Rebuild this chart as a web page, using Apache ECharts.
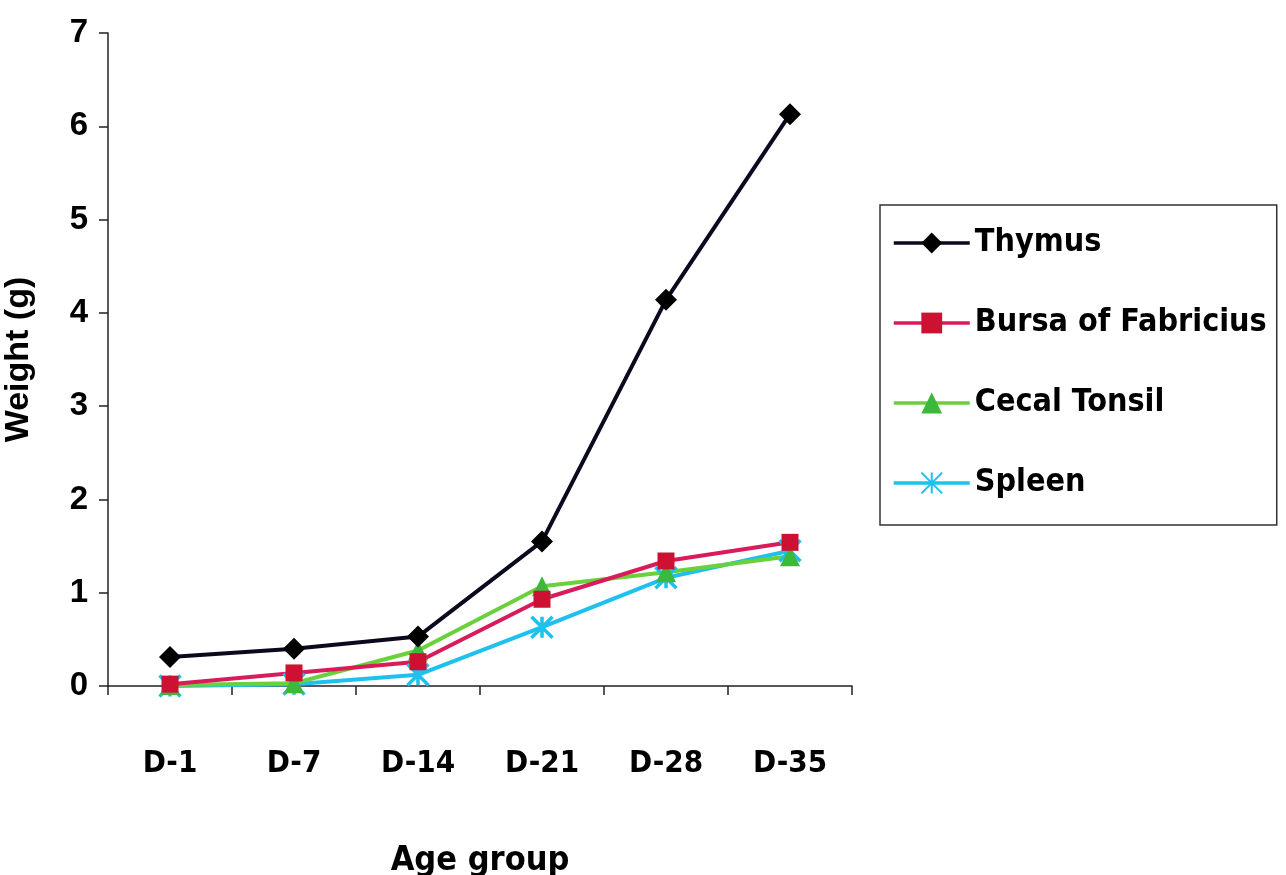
<!DOCTYPE html>
<html><head><meta charset="utf-8">
<script src="https://cdn.jsdelivr.net/npm/echarts@6/dist/echarts.min.js"></script>
<style>html,body{margin:0;padding:0;background:#fff}#c{width:1286px;height:875px}</style>
</head><body><div id="c"></div>
<script>
const categories = ['D-1','D-7','D-14','D-21','D-28','D-35'];
const thymus = [0.31, 0.40, 0.53, 1.55, 4.14, 6.13];
const bursa = [0.02, 0.14, 0.26, 0.93, 1.34, 1.54];
const cecal = [0.01, 0.03, 0.38, 1.07, 1.22, 1.39];
const spleen = [0.00, 0.02, 0.12, 0.63, 1.16, 1.45];
const yTicks = [0,1,2,3,4,5,6,7];

const font = '"DejaVu Sans Condensed", sans-serif';
const font2 = '"Liberation Sans", sans-serif';
const starPath = 'path://M0,0L10,10M10,0L0,10M5,0L5,10';

function s(name, data, color, symbol, size, extra) {
  return Object.assign({
    name, type: 'line', data, symbol, symbolSize: size,
    lineStyle: { color, width: 4 },
    itemStyle: { color },
    emphasis: { disabled: true },
    z: 2
  }, extra || {});
}

const chart = echarts.init(document.getElementById('c'));
chart.setOption({
  backgroundColor: '#fff',
  animation: false,
  grid: { left: 108, right: 434, top: 33, bottom: 189, outerBoundsMode: 'none', containLabel: false },
  legend: {
    left: 880, top: 205, orient: 'vertical',
    padding: [22, 10, 26, 12],
    itemGap: 48, itemWidth: 76, itemHeight: 26,
    borderColor: '#333', borderWidth: 1.5,
    lineStyle: { width: 3.5 },
    textStyle: { fontFamily: font, fontWeight: 'bold', fontSize: 32, color: '#000' },
    data: ['Thymus','Bursa of Fabricius','Cecal Tonsil','Spleen']
  },
  xAxis: {
    type: 'category', data: categories, boundaryGap: true,
    name: 'Age group', nameLocation: 'middle', nameGap: 158,
    nameTextStyle: { fontFamily: font, fontWeight: 'bold', fontSize: 34, color: '#000' },
    axisLine: { lineStyle: { color: '#222', width: 1.5 } },
    axisTick: { show: true, length: 9, alignWithLabel: false, lineStyle: { color: '#222', width: 1.5 } },
    axisLabel: { margin: 62, fontFamily: font, fontWeight: 'bold', fontSize: 31, color: '#000' },
    splitLine: { show: false }
  },
  yAxis: {
    type: 'value', min: 0, max: 7, interval: 1,
    name: 'Weight (g)', nameLocation: 'middle', nameGap: 72,
    nameTextStyle: { fontFamily: font2, fontWeight: 'bold', fontSize: 34, color: '#000' },
    axisLine: { show: true, lineStyle: { color: '#222', width: 1.5 } },
    axisTick: { show: true, length: 9, lineStyle: { color: '#222', width: 1.5 } },
    axisLabel: { margin: 20, fontFamily: font2, fontWeight: 'bold', fontSize: 33, color: '#000',
      formatter: v => yTicks.includes(v) ? String(v) : '' },
    splitLine: { show: false }
  },
  series: [
    s('Spleen', spleen, '#1ec0ee', starPath, 21, { itemStyle: { color: '#1ec0ee', borderColor: '#1ec0ee', borderWidth: 3.5 } }),
    s('Cecal Tonsil', cecal, '#6bd13a', 'triangle', 20, { itemStyle: { color: '#3cb83a' } }),
    s('Bursa of Fabricius', bursa, '#d81b5a', 'rect', 17, { itemStyle: { color: '#cc1133' } }),
    s('Thymus', thymus, '#0a0a1e', 'diamond', 22, { itemStyle: { color: '#000' } })
  ]
});
</script></body></html>
